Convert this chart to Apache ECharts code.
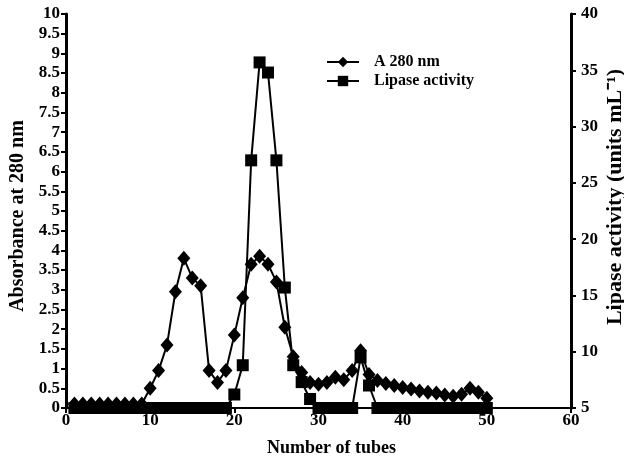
<!DOCTYPE html>
<html>
<head>
<meta charset="utf-8">
<script src="https://cdn.jsdelivr.net/npm/echarts@6/dist/echarts.min.js"></script>
<style>
html, body { margin: 0; padding: 0; background: #fff; }
#main { width: 624px; height: 461px; }
</style>
</head>
<body>
<div id="main"></div>
<script>
// tube number, absorbance at 280 nm, lipase activity (units/mL)
var tubes = [1, 2, 3, 4, 5, 6, 7, 8, 9, 10,
	11, 12, 13, 14, 15, 16, 17, 18, 19, 20,
	21, 22, 23, 24, 25, 26, 27, 28, 29, 30,
	31, 32, 33, 34, 35, 36, 37, 38, 39, 40,
	41, 42, 43, 44, 45, 46, 47, 48, 49, 50];
var a280 = [0.1, 0.1, 0.1, 0.1, 0.1, 0.1, 0.1, 0.1, 0.1, 0.5,
	0.95, 1.6, 2.95, 3.8, 3.3, 3.1, 0.95, 0.65, 0.95, 1.85,
	2.8, 3.65, 3.85, 3.65, 3.2, 2.05, 1.3, 0.9, 0.65, 0.6,
	0.65, 0.78, 0.72, 0.95, 1.45, 0.85, 0.7, 0.62, 0.57, 0.52,
	0.48, 0.43, 0.4, 0.38, 0.33, 0.3, 0.35, 0.5, 0.4, 0.25];
var lipase = [5, 5, 5, 5, 5, 5, 5, 5, 5, 5,
	5, 5, 5, 5, 5, 5, 5, 5, 5, 6.2,
	8.8, 27, 35.7, 34.8, 27, 15.7, 8.8, 7.3, 5.8, 5,
	5, 5, 5, 5, 9.5, 7, 5, 5, 5, 5,
	5, 5, 5, 5, 5, 5, 5, 5, 5, 5];

var leftTicks = { min: 0, max: 10, step: 0.5 };
var rightTicks = { min: 5, max: 40, step: 5 };
var xTicks = { min: 0, max: 60, step: 10 };

var serif = "'Liberation Serif', 'Times New Roman', serif";

function pairs(xs, ys) {
	var out = [];
	for (var i = 0; i < xs.length; i++) out.push([xs[i], ys[i]]);
	return out;
}

var myChart = echarts.init(document.getElementById('main'));
var option = {
	animation: false,
	backgroundColor: '#fff',
	grid: { left: 66, right: 53, top: 14, bottom: 53, outerBoundsMode: 'none', containLabel: false },
	legend: {
		orient: 'vertical',
		left: 321,
		top: 49,
		itemWidth: 32,
		itemHeight: 13,
		itemGap: 3,
		data: ['A 280 nm', 'Lipase activity'],
		textStyle: {
			color: '#000',
			fontFamily: serif,
			fontWeight: 'bold',
			fontSize: 16,
			padding: [0, 0, 0, 10]
		}
	},
	xAxis: {
		type: 'value',
		min: xTicks.min,
		max: xTicks.max,
		interval: xTicks.step,
		name: 'Number of tubes',
		nameLocation: 'middle',
		nameGap: 31,
		nameMoveOverlap: false,
		nameTextStyle: {
			color: '#000', fontFamily: serif, fontWeight: 'bold', fontSize: 18,
			padding: [0, 0, 0, 26]
		},
		splitLine: { show: false },
		axisLine: { onZero: false, lineStyle: { color: '#000', width: 2 } },
		axisTick: { inside: false, length: 5, lineStyle: { color: '#000', width: 2 } },
		axisLabel: { color: '#000', fontFamily: serif, fontWeight: 'bold', fontSize: 17, margin: 4 }
	},
	yAxis: [
		{
			type: 'value',
			position: 'left',
			min: leftTicks.min,
			max: leftTicks.max,
			interval: leftTicks.step,
			name: 'Absorbance at 280 nm',
			nameLocation: 'middle',
			nameGap: 38,
			nameMoveOverlap: false,
			nameTextStyle: {
				color: '#000', fontFamily: serif, fontWeight: 'bold', fontSize: 20,
				padding: [0, 10, 0, 0]
			},
			splitLine: { show: false },
			axisLine: { show: true, onZero: false, lineStyle: { color: '#000', width: 3 } },
			axisTick: { show: true, length: 5, lineStyle: { color: '#000', width: 2 } },
			axisLabel: { color: '#000', fontFamily: serif, fontWeight: 'bold', fontSize: 17, margin: 6 }
		},
		{
			type: 'value',
			position: 'right',
			min: rightTicks.min,
			max: rightTicks.max,
			interval: rightTicks.step,
			name: 'Lipase activity (units mL\u207B\u00B9)',
			nameLocation: 'middle',
			nameGap: 33,
			nameRotate: 90,
			nameMoveOverlap: false,
			nameTextStyle: {
				color: '#000', fontFamily: serif, fontWeight: 'bold', fontSize: 22,
				padding: [0, 0, 0, 28]
			},
			splitLine: { show: false },
			axisLine: { show: true, onZero: false, lineStyle: { color: '#000', width: 3 } },
			axisTick: { show: true, length: 5, lineStyle: { color: '#000', width: 2 } },
			axisLabel: { color: '#000', fontFamily: serif, fontWeight: 'bold', fontSize: 17, margin: 10 }
		}
	],
	series: [
		{
			name: 'A 280 nm',
			type: 'line',
			yAxisIndex: 0,
			symbol: 'diamond',
			symbolSize: [13, 15],
			clip: false,
			lineStyle: { color: '#000', width: 2 },
			itemStyle: { color: '#000' },
			data: pairs(tubes, a280)
		},
		{
			name: 'Lipase activity',
			type: 'line',
			yAxisIndex: 1,
			symbol: 'rect',
			symbolSize: 12,
			clip: false,
			lineStyle: { color: '#000', width: 2 },
			itemStyle: { color: '#000' },
			data: pairs(tubes, lipase)
		}
	]
};
myChart.setOption(option);
</script>
</body>
</html>
